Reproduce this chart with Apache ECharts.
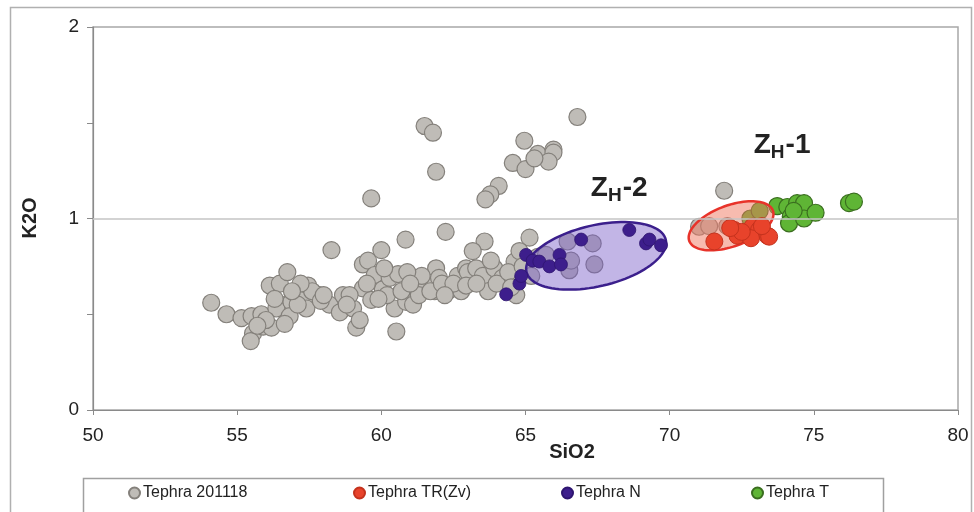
<!DOCTYPE html>
<html>
<head>
<meta charset="utf-8">
<script src="https://cdn.jsdelivr.net/npm/echarts@6/dist/echarts.min.js"></script>
<style>html,body{margin:0;padding:0;background:#fff}#c{width:974px;height:512px}</style>
</head>
<body>
<div id="c"></div>
<script>
const xTicks = [50, 55, 60, 65, 70, 75, 80];
const yTicks = [0, 1, 2];
const seriesNames = ['Tephra 201118', 'Tephra TR(Zv)', 'Tephra N', 'Tephra T'];

const tephra201118 = [
  [54.1,0.56],[54.63,0.50],[55.15,0.48],[55.5,0.49],[55.84,0.50],[55.55,0.40],[55.47,0.36],[55.9,0.435],[56.19,0.43],
  [56.13,0.65],[56.48,0.66],[56.74,0.72],[56.5,0.55],[56.36,0.53],[56.88,0.565],[56.82,0.49],[56.65,0.45],[57.0,0.61],
  [57.34,0.58],[57.46,0.65],[57.4,0.53],[57.86,0.60],[58.2,0.55],[58.27,0.835],
  [56.0,0.47],[56.3,0.58],[57.1,0.55],[57.6,0.62],[57.9,0.57],[58.0,0.60],[57.2,0.66],[55.7,0.44],[56.9,0.62],
  [58.56,0.51],[58.67,0.60],[59.02,0.53],[59.13,0.43],[59.25,0.47],[59.36,0.635],[59.36,0.76],[59.54,0.78],[59.65,0.575],
  [59.77,0.705],[60.0,0.835],[60.05,0.63],[60.29,0.69],[60.46,0.53],[60.52,0.41],[60.58,0.71],[60.84,0.89],[60.86,0.565],
  [61.1,0.55],[61.15,0.656],[61.56,0.66],[61.9,0.74],[62.0,0.69],[61.85,0.62],[62.3,0.62],[62.65,0.70],[62.94,0.74],
  [62.77,0.62],[62.23,0.93],[59.65,1.105],
  [58.9,0.60],[59.5,0.66],[60.2,0.60],[60.7,0.62],[61.3,0.60],[61.4,0.70],[60.9,0.72],[61.7,0.62],[62.1,0.66],[62.5,0.66],
  [58.8,0.55],[60.1,0.74],[59.9,0.58],[61.0,0.66],[62.2,0.60],
  [63.58,0.88],[63.17,0.83],[65.14,0.90],[63.0,0.72],[63.29,0.74],[63.52,0.70],[63.92,0.74],[64.2,0.69],[62.94,0.65],
  [63.7,0.62],[64.62,0.775],[64.79,0.83],[64.68,0.60],[65.43,0.80],[66.46,0.88],[67.33,0.87],[67.39,0.76],[66.52,0.73],
  [65.71,0.81],[66.58,0.78],
  [63.3,0.66],[64.0,0.66],[64.4,0.72],[64.9,0.75],[65.2,0.70],[64.5,0.64],[63.8,0.78],
  [61.5,1.483],[61.79,1.448],[61.9,1.244],[66.8,1.53],[64.96,1.406],[64.56,1.29],[65.0,1.258],[65.43,1.337],[65.97,1.36],
  [65.97,1.344],[65.8,1.297],[65.31,1.314],[64.07,1.17],[63.78,1.126],[63.61,1.10],[71.89,1.145],
  [71.02,0.957],[71.37,0.96],[72.0,0.96]
];
const tephraTRZv = [
  [71.55,0.88],[72.24,0.94],[72.35,0.91],[72.76,0.91],[72.87,0.957],[73.1,0.94],[73.39,0.91],[72.82,0.897],
  [73.45,0.905],[72.5,0.93],[72.1,0.95],[73.2,0.96]
];
const tephraN = [
  [64.33,0.604],[64.79,0.66],[64.85,0.70],[65.02,0.81],[65.25,0.78],[65.48,0.775],[65.83,0.75],[66.18,0.81],
  [66.23,0.76],[66.93,0.89],[68.6,0.94],[69.18,0.87],[69.3,0.89],[69.7,0.86]
];
const tephraT = [
  [72.8,1.0],[73.12,1.04],[73.73,1.065],[74.08,1.06],[74.42,1.08],[74.66,1.08],[74.2,1.01],[74.14,0.975],
  [74.66,1.0],[75.06,1.03],[74.3,1.04],[76.22,1.08],[76.39,1.088]
];
// annotation anchors (data units)
const ellipseCenters = [[67.45, 0.805], [72.13, 0.962]];
const labelAnchors = [[68.25, 1.16], [73.9, 1.384]];
const labelTexts = ['2', '1'];

const FONT = "'Liberation Sans', Arial, sans-serif";
const ellipseStyles = [
  {a: 71.5, b: 30.5, rot: 13, fill: 'rgba(120,92,200,0.45)', stroke: '#3b1f8c'},
  {a: 44.5, b: 20.5, rot: 20, fill: 'rgba(240,120,95,0.5)', stroke: '#e8332a'}
];

const chart = echarts.init(document.getElementById('c'), null, {renderer: 'canvas'});

function ellipseSeries(i, z) {
  const st = ellipseStyles[i];
  return {
    type: 'custom', name: 'ell' + i, z: z, silent: true,
    data: [ellipseCenters[i]],
    renderItem: function (params, api) {
      const c = api.coord([api.value(0), api.value(1)]);
      const th = st.rot * Math.PI / 180;
      const pts = [];
      for (let k = 0; k < 96; k++) {
        const t = k / 96 * Math.PI * 2;
        const ex = st.a * Math.cos(t), ey = st.b * Math.sin(t);
        pts.push([c[0] + ex * Math.cos(th) - ey * Math.sin(th), c[1] - (ex * Math.sin(th) + ey * Math.cos(th))]);
      }
      return {type: 'polygon', shape: {points: pts}, style: {fill: st.fill, stroke: st.stroke, lineWidth: 2.5}};
    }
  };
}

function legendAt(name, left) {
  return {
    data: [name], left: left, top: 485, padding: 0, itemWidth: 11, itemHeight: 11, itemGap: 0,
    icon: 'circle', selectedMode: false,
    textStyle: {fontFamily: FONT, fontSize: 16, color: '#222', padding: [0, 0, 0, -2]}
  };
}

const option = {
  animation: false,
  backgroundColor: '#fff',
  grid: {left: 93, right: 16, top: 27, bottom: 102, show: true, borderColor: '#a8a8a8', borderWidth: 1.5},
  xAxis: {
    type: 'value', min: xTicks[0], max: xTicks[xTicks.length - 1], interval: 5,
    axisLine: {show: true, onZero: false, lineStyle: {color: '#8a8a8a', width: 1.2}},
    axisTick: {show: true, length: 5, lineStyle: {color: '#8a8a8a'}},
    axisLabel: {fontFamily: FONT, fontSize: 19, color: '#222', margin: 16},
    splitLine: {show: false}
  },
  yAxis: {
    type: 'value', min: yTicks[0], max: yTicks[yTicks.length - 1], interval: 0.5,
    axisLine: {show: true, onZero: false, lineStyle: {color: '#8a8a8a', width: 1.2}},
    axisTick: {show: true, length: 6, lineStyle: {color: '#8a8a8a'}},
    axisLabel: {fontFamily: FONT, fontSize: 19, color: '#222', margin: 14,
      formatter: v => (yTicks.indexOf(v) >= 0 ? String(v) : '')},
    splitLine: {show: false}
  },
  legend: seriesNames.map((n, i) => legendAt(n, [128, 353, 561, 751][i])),
  series: [
    {type: 'scatter', name: 'gridline', data: [], z: 1, silent: true,
      markLine: {silent: true, symbol: 'none', label: {show: false},
        lineStyle: {color: '#c4c4c4', width: 1.5, type: 'solid'}, data: [{yAxis: 1}]}},
    {type: 'scatter', name: seriesNames[0], data: tephra201118, z: 2, symbolSize: 17,
      itemStyle: {color: '#bfbcb7', borderColor: '#84807b', borderWidth: 1.2, opacity: 1}},
    {type: 'scatter', name: seriesNames[3], data: tephraT, z: 2, symbolSize: 17,
      itemStyle: {color: '#5fb535', borderColor: '#3a6e1f', borderWidth: 1.2, opacity: 1}},
    ellipseSeries(0, 3),
    ellipseSeries(1, 3),
    {type: 'scatter', name: seriesNames[1], data: tephraTRZv, z: 4, symbolSize: 17,
      itemStyle: {color: '#e8432b', borderColor: '#c4321d', borderWidth: 1, opacity: 1}},
    {type: 'scatter', name: seriesNames[2], data: tephraN, z: 5, symbolSize: 13,
      itemStyle: {color: '#3d1e8c', borderColor: '#2e1570', borderWidth: 0.8, opacity: 1}}
  ]
};
chart.setOption(option);

const lbl = labelAnchors.map((p, i) => {
  const px = chart.convertToPixel({gridIndex: 0}, p);
  return {
    type: 'text', x: px[0], y: px[1], z: 10,
    style: {
      text: '{a|Z}{b|H}{a|-' + labelTexts[i] + '}',
      align: 'center', verticalAlign: 'middle',
      rich: {
        a: {fontFamily: FONT, fontSize: 28, fontWeight: 'bold', fill: '#222'},
        b: {fontFamily: FONT, fontSize: 19, fontWeight: 'bold', fill: '#222', padding: [16, 1, 0, 0]}
      }
    }
  };
});

chart.setOption({
  graphic: [
    {type: 'rect', shape: {x: 10.5, y: 7.5, width: 961, height: 520}, style: {fill: 'none', stroke: '#b0b0b0', lineWidth: 1.5}, z: 0, silent: true},
    {type: 'rect', shape: {x: 83.5, y: 478.5, width: 800, height: 50}, style: {fill: 'none', stroke: '#a0a0a0', lineWidth: 1.5}, z: 0, silent: true},
    {type: 'text', x: 572, y: 452, style: {text: 'SiO2', fontFamily: FONT, fontSize: 20, fontWeight: 'bold', fill: '#222', align: 'center', verticalAlign: 'middle'}, silent: true},
    {type: 'text', x: 30, y: 218, rotation: Math.PI / 2, style: {text: 'K2O', fontFamily: FONT, fontSize: 20, fontWeight: 'bold', fill: '#222', align: 'center', verticalAlign: 'middle'}, silent: true}
  ].concat(lbl)
});
</script>
</body>
</html>
